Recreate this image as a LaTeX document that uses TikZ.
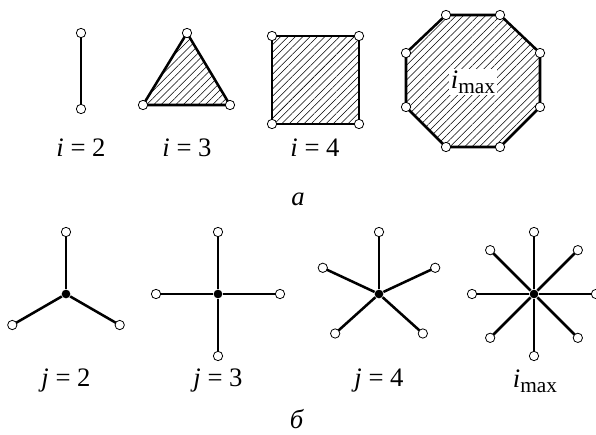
\documentclass[tikz,border=0pt]{standalone}
\usepackage{fontspec}
\setmainfont{Liberation Serif}
\usetikzlibrary{patterns.meta,backgrounds,calc}
\tikzset{every picture/.style={line width=0.75pt}}
\tikzset{
vtx/.style={circle,draw,fill=white,line width=0.6pt,inner sep=0pt,minimum size=7pt},
hub/.style={circle,fill=black,inner sep=0pt,minimum size=6.5pt},
rib/.style={line width=1.9pt},
hatch/.style={pattern={Lines[angle=45,distance=3.9pt,line width=0.4pt]}},
lbl/.style={font=\fontsize{20}{24}\selectfont}}
\newcommand{\imx}{\textit{i}\raisebox{-0.4ex}{\fontsize{16}{18}\selectfont max}}

\begin{document}
\begin{tikzpicture}[x=0.75pt,y=0.75pt,yscale=-1]
\path[use as bounding box] (0,0) rectangle (596,435);

% Segment
\node[vtx] (s1) at (81,33) {};
\node[vtx] (s2) at (81,109) {};
% Triangle
\node[vtx] (t1) at (187,33) {};
\node[vtx] (t2) at (143,105) {};
\node[vtx] (t3) at (230,105) {};
% Square
\node[vtx] (q1) at (272,36) {};
\node[vtx] (q2) at (359,36) {};
\node[vtx] (q3) at (359,124) {};
\node[vtx] (q4) at (272,124) {};
% Octagon
\foreach \n/\p in {1/{(446,15)},2/{(500,15)},3/{(540,53)},4/{(540,107)},
                   5/{(500,147)},6/{(446,147)},7/{(406,107)},8/{(406,53)}}
  \node[vtx] (o\n) at \p {};

\begin{scope}[on background layer]
\draw[rib] (s1.center) -- (s2.center);
\draw[rib,hatch] (t1.center) -- (t2.center) -- (t3.center) -- cycle;
\draw[rib,hatch] (q1.center) -- (q2.center) -- (q3.center) -- (q4.center) -- cycle;
\draw[rib,hatch] (o1.center) -- (o2.center) -- (o3.center) -- (o4.center)
  -- (o5.center) -- (o6.center) -- (o7.center) -- (o8.center) -- cycle;
\end{scope}
\node[lbl,fill=white,inner sep=1.5pt] (omax) at (473,82) {\imx};

% Text Node
\node[lbl] (li2) at (81,148) {\textit{i} = 2};
\node[lbl] (li3) at (187,148) {\textit{i} = 3};
\node[lbl] (li4) at (315,148) {\textit{i} = 4};
\node[lbl] (la) at (298,199) {\textit{а}};

% Stars
\node[hub] (h2) at (66,294) {};
\foreach \a [count=\k] in {90,210,330}
  \node[vtx] (h2\k) at ($(h2)+(-\a:62)$) {};
\node[hub] (h3) at (218,294) {};
\foreach \a [count=\k] in {0,90,180,270}
  \node[vtx] (h3\k) at ($(h3)+(-\a:62)$) {};
\node[hub] (h4) at (379,294) {};
\foreach \a/\r [count=\k] in {90/62,155/62,25/62,222/59,318/59}
  \node[vtx] (h4\k) at ($(h4)+(-\a:\r)$) {};
\node[hub] (h5) at (534,294) {};
\foreach \a [count=\k] in {0,45,...,315}
  \node[vtx] (h5\k) at ($(h5)+(-\a:62)$) {};

\begin{scope}[on background layer]
\foreach \k in {1,...,3} \draw[rib] (h2) -- (h2\k.center);
\foreach \k in {1,...,4} \draw[rib] (h3) -- (h3\k.center);
\foreach \k in {1,...,5} \draw[rib] (h4) -- (h4\k.center);
\foreach \k in {1,...,8} \draw[rib] (h5) -- (h5\k.center);
\end{scope}

% Text Node
\node[lbl] (lj2) at (66,381) {\textit{j} = 2};
\node[lbl] (lj3) at (218,381) {\textit{j} = 3};
\node[lbl] (lj4) at (379,381) {\textit{j} = 4};
\node[lbl] (lmax) at (535,381) {\imx};
\node[lbl] (lb) at (297,419) {\textit{б}};

\end{tikzpicture}
\end{document}
